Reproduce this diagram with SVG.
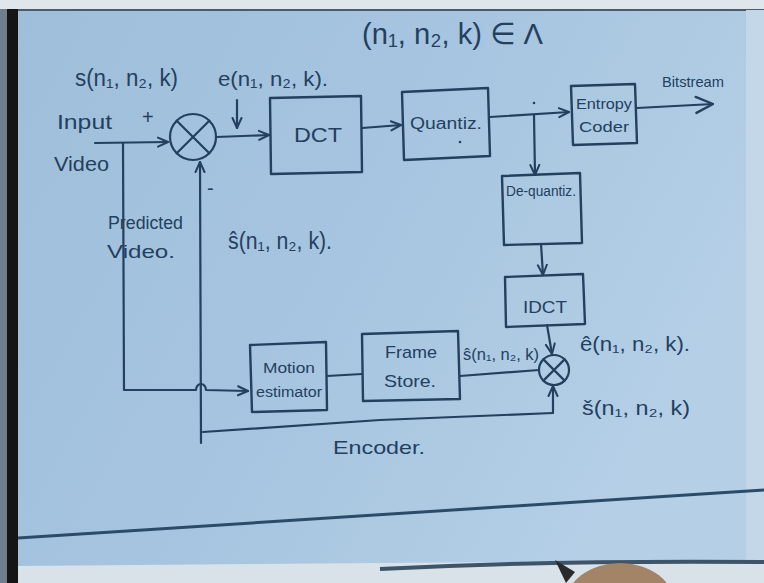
<svg xmlns="http://www.w3.org/2000/svg" width="764" height="583" viewBox="0 0 764 583">
<defs>
<linearGradient id="paper" x1="0" y1="0" x2="1" y2="0.4">
<stop offset="0" stop-color="#9ebed9"/>
<stop offset="0.55" stop-color="#a7c5e0"/>
<stop offset="1" stop-color="#b4cfe6"/>
</linearGradient>
<marker id="arr" viewBox="0 0 12 12" refX="11" refY="6" markerWidth="12" markerHeight="12" markerUnits="userSpaceOnUse" orient="auto">
<path d="M1,1.5 L11,6 L1,10.5" fill="none" stroke="#23405f" stroke-width="2" stroke-linecap="round" stroke-linejoin="round"/>
</marker>
<marker id="arrBig" viewBox="0 0 20 20" refX="19" refY="10" markerWidth="20" markerHeight="20" markerUnits="userSpaceOnUse" orient="auto">
<path d="M2,2 L19,10 L2,18" fill="none" stroke="#23405f" stroke-width="2.4" stroke-linecap="round" stroke-linejoin="round"/>
</marker>
<style>
.ink{fill:none;stroke:#23405f;stroke-width:2.2;stroke-linecap:round;stroke-linejoin:round}
.box{fill:none;stroke:#23405f;stroke-width:2.4;stroke-linejoin:round}
text{font-family:"Liberation Sans","DejaVu Sans",sans-serif;fill:#23405f}
.mid{text-anchor:middle}
</style>
</defs>

<!-- background scene -->
<g id="background">
<rect x="0" y="0" width="764" height="583" fill="#dfe7ed"/>
<rect x="0" y="9" width="764" height="560" fill="url(#paper)"/>
<line x1="0" y1="10" x2="764" y2="10" stroke="#4a5c70" stroke-width="2"/>
<rect x="746" y="10" width="18" height="555" fill="#c3d7e8"/>
<path d="M18,538 Q400,512 764,490" fill="none" stroke="#2b4c69" stroke-width="3"/>
<path d="M18,566 L764,560 L764,583 L18,583 Z" fill="#d9e2e9"/>
<path d="M380,569 Q560,560 764,562" fill="none" stroke="#3e5468" stroke-width="4"/>
<ellipse cx="620" cy="605" rx="55" ry="42" fill="#a48466"/>
<path d="M555,560 L575,572 L566,583 Z" fill="#2a2a2a"/>
<rect x="0" y="9" width="8" height="574" fill="#6f7f8c"/>
<rect x="7" y="9" width="11" height="574" fill="#151515"/>
</g>

<!-- connectors -->
<g id="connectors">
<path class="ink" d="M95,143 L168,142" marker-end="url(#arr)"/>
<path class="ink" d="M123,143 L124,390 L196,390 A5,6 0 0 1 206,390 L248,391" marker-end="url(#arr)"/>
<path class="ink" d="M216,137 L269,135" marker-end="url(#arr)"/>
<path class="ink" d="M237,100 L237,128" marker-end="url(#arr)"/>
<path class="ink" d="M362,128 L401,125" marker-end="url(#arr)"/>
<path class="ink" d="M490,117 L569,112" marker-end="url(#arr)"/>
<path class="ink" d="M534,115 L535,175" marker-end="url(#arr)"/>
<path class="ink" d="M637,108 L713,104" marker-end="url(#arrBig)"/>
<path class="ink" d="M541,244 L543,275" marker-end="url(#arr)"/>
<path class="ink" d="M547,325 L552,354" marker-end="url(#arr)"/>
<path class="ink" d="M327,376 L362,374"/>
<path class="ink" d="M460,376 L539,370"/>
<path class="ink" d="M553,413 L553,386" marker-end="url(#arr)"/>
<path class="ink" d="M553,413 L380,420 L203,432"/>
<path class="ink" d="M201,443 L200,162" marker-end="url(#arr)"/>
<circle cx="534" cy="103" r="1.3" fill="#23405f"/>
</g>

<!-- nodes -->
<g id="sum1">
<circle class="ink" cx="193" cy="137" r="23"/>
<path class="ink" d="M176.7,120.7 L209.3,153.3 M209.3,120.7 L176.7,153.3"/>
</g>
<g id="dct">
<path class="box" d="M270,98 L361,96 L362,172 L271,174 Z"/>
<text x="318" y="142" font-size="21" class="mid" textLength="48" lengthAdjust="spacingAndGlyphs">DCT</text>
</g>
<g id="quantizer">
<path class="box" d="M402,92 L488,88 L490,156 L404,160 Z"/>
<text x="446" y="129" font-size="16" class="mid" textLength="72" lengthAdjust="spacingAndGlyphs">Quantiz.</text>
<circle cx="460" cy="142" r="1.3" fill="#23405f"/>
</g>
<g id="entropy">
<path class="box" d="M571,86 L635,84 L637,143 L573,145 Z"/>
<text x="604" y="109" font-size="15" class="mid" textLength="56" lengthAdjust="spacingAndGlyphs">Entropy</text>
<text x="604" y="132" font-size="15" class="mid" textLength="50" lengthAdjust="spacingAndGlyphs">Coder</text>
</g>
<g id="dequantizer">
<path class="box" d="M502,176 L580,173 L582,243 L504,245 Z"/>
<text x="541" y="196" font-size="14" class="mid" textLength="70" lengthAdjust="spacingAndGlyphs">De-quantiz.</text>
</g>
<g id="idct">
<path class="box" d="M505,277 L583,274 L585,324 L506,327 Z"/>
<text x="545" y="313" font-size="17" class="mid" textLength="44" lengthAdjust="spacingAndGlyphs">IDCT</text>
</g>
<g id="sum2">
<circle class="ink" cx="554" cy="370" r="15"/>
<path class="ink" d="M543.4,359.4 L564.6,380.6 M564.6,359.4 L543.4,380.6"/>
</g>
<g id="motion">
<path class="box" d="M250,345 L326,342 L327,410 L252,412 Z"/>
<text x="289" y="373" font-size="14" class="mid" textLength="52" lengthAdjust="spacingAndGlyphs">Motion</text>
<text x="289" y="397" font-size="14" class="mid" textLength="66" lengthAdjust="spacingAndGlyphs">estimator</text>
</g>
<g id="framestore">
<path class="box" d="M362,334 L458,331 L460,399 L363,401 Z"/>
<text x="411" y="358" font-size="17" class="mid" textLength="52" lengthAdjust="spacingAndGlyphs">Frame</text>
<text x="410" y="387" font-size="17" class="mid" textLength="52" lengthAdjust="spacingAndGlyphs">Store.</text>
</g>

<!-- labels -->
<g id="labels">
<text x="362" y="44" font-size="30" textLength="181" lengthAdjust="spacingAndGlyphs">(n₁, n₂, k) ∈ Λ</text>
<text x="75" y="86" font-size="23" textLength="103" lengthAdjust="spacingAndGlyphs">s(n₁, n₂, k)</text>
<text x="218" y="86" font-size="21" textLength="110" lengthAdjust="spacingAndGlyphs">e(n₁, n₂, k).</text>
<text x="57" y="129" font-size="20" textLength="55" lengthAdjust="spacingAndGlyphs">Input</text>
<text x="142" y="124" font-size="20">+</text>
<text x="54" y="171" font-size="20" textLength="55" lengthAdjust="spacingAndGlyphs">Video</text>
<text x="207" y="195" font-size="20">-</text>
<text x="108" y="229" font-size="18" textLength="75" lengthAdjust="spacingAndGlyphs">Predicted</text>
<text x="107" y="258" font-size="19" textLength="68" lengthAdjust="spacingAndGlyphs">Video.</text>
<text x="228" y="249" font-size="23" textLength="104" lengthAdjust="spacingAndGlyphs">ŝ(n₁, n₂, k).</text>
<text x="463" y="360" font-size="16" textLength="76" lengthAdjust="spacingAndGlyphs">ŝ(n₁, n₂, k)</text>
<text x="580" y="351" font-size="20" textLength="110" lengthAdjust="spacingAndGlyphs">ê(n₁, n₂, k).</text>
<text x="582" y="415" font-size="20" textLength="108" lengthAdjust="spacingAndGlyphs">š(n₁, n₂, k)</text>
<text x="662" y="87" font-size="15" textLength="62" lengthAdjust="spacingAndGlyphs">Bitstream</text>
<text x="333" y="454" font-size="19" textLength="92" lengthAdjust="spacingAndGlyphs">Encoder.</text>
</g>
</svg>
